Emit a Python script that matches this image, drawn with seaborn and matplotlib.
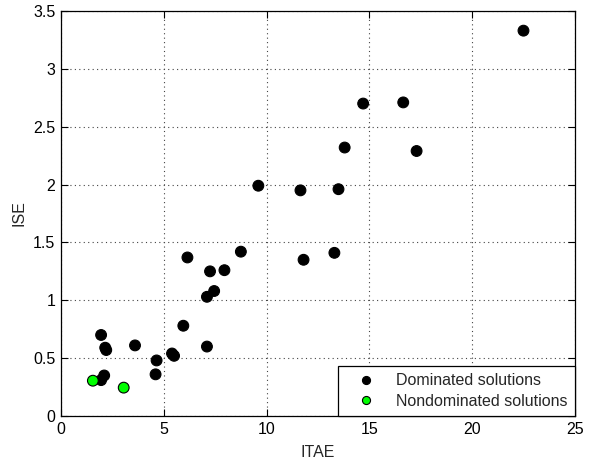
import pandas as pd
import numpy as np
import matplotlib.pyplot as plt
import seaborn as sns

# dominated solutions (ITAE, ISE)
dom_itae = [22.5, 14.7, 16.65, 13.8, 17.3, 11.65, 13.5, 9.6, 11.8, 13.3,
            6.15, 8.75, 7.25, 7.95, 7.45, 7.1, 5.95, 7.1, 5.4, 5.5,
            4.65, 4.6, 3.6, 1.95, 2.15, 2.2, 2.1, 1.95]
dom_ise = [3.33, 2.70, 2.71, 2.32, 2.29, 1.95, 1.96, 1.99, 1.35, 1.41,
           1.37, 1.42, 1.25, 1.26, 1.08, 1.03, 0.78, 0.60, 0.54, 0.52,
           0.48, 0.36, 0.61, 0.70, 0.59, 0.57, 0.35, 0.31]

# nondominated solutions
nd_itae = [1.55, 3.05]
nd_ise = [0.305, 0.245]

df = pd.DataFrame({
    'ITAE': dom_itae + nd_itae,
    'ISE': dom_ise + nd_ise,
    'kind': ['Dominated solutions'] * len(dom_itae) + ['Nondominated solutions'] * len(nd_itae),
})

sns.set_style('white')
plt.rcParams['font.family'] = ['Liberation Sans', 'DejaVu Sans']

fig = plt.figure(figsize=(5.89, 4.62), dpi=100)
ax = fig.add_axes([0.1036, 0.0996, 0.8724, 0.8766])

sns.scatterplot(
    data=df,
    x='ITAE',
    y='ISE',
    hue='kind',
    palette={'Dominated solutions': 'black', 'Nondominated solutions': '#00ff00'},
    edgecolor='black',
    linewidth=0.8,
    s=60,
    ax=ax
)

ax.set_xlim(0, 25)
ax.set_ylim(0, 3.5)
ax.set_xticks([0, 5, 10, 15, 20, 25])
ax.set_yticks([0, 0.5, 1, 1.5, 2, 2.5, 3, 3.5])
ax.set_yticklabels(['0', '0.5', '1', '1.5', '2', '2.5', '3', '3.5'])
ax.grid(True, linestyle=(0, (1, 3)), color='#444444', linewidth=0.8)
ax.tick_params(direction='in', length=5, labelsize=11.5, colors='black', top=True, right=True,
               bottom=True, left=True, pad=4)
for sp in ax.spines.values():
    sp.set_color('black')
    sp.set_linewidth(0.9)
ax.set_xlabel('ITAE', fontsize=11.5, labelpad=6)
ax.set_ylabel('ISE', fontsize=11.5, labelpad=5)

leg = ax.legend(loc='lower right', borderaxespad=0, fontsize=11.5, fancybox=False,
                framealpha=1, edgecolor='black', handletextpad=0.6, markerscale=0.75,
                borderpad=0.45, labelspacing=0.35, handlelength=2.6)
leg.get_frame().set_linewidth(0.9)

fig.savefig('out.png', dpi=100)
